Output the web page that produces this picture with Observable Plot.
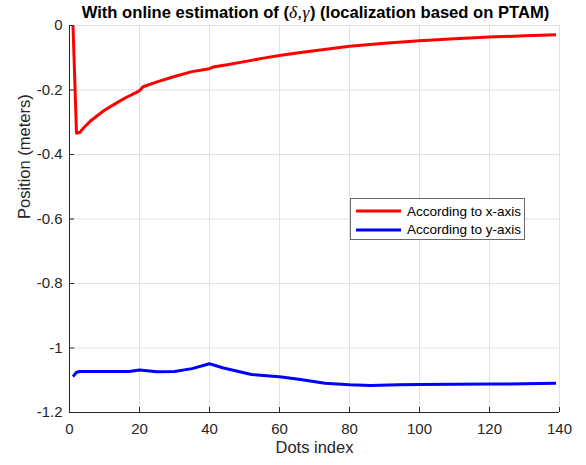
<!DOCTYPE html>
<html>
<head>
<meta charset="utf-8">
<script src="https://cdn.jsdelivr.net/npm/d3@7"></script>
<script src="https://cdn.jsdelivr.net/npm/@observablehq/plot@0.6"></script>
<style>
  html, body { margin: 0; padding: 0; background: #fff; }
  #wrap { position: relative; width: 586px; height: 465px; font-family: "Liberation Sans", Arial, sans-serif; }
  #title { position: absolute; left: 0; top: 2px; width: 631px; text-align: center; font-weight: bold; font-size: 16.6px; color: #000; white-space: nowrap; }
  #title .m { font-family: "Liberation Serif", "DejaVu Serif", serif; font-style: italic; font-weight: normal; font-size: 17.5px; letter-spacing: 0.5px; }
  #legend { position: absolute; left: 350px; top: 198px; width: 173px; height: 40px; border: 1px solid #6a6a6a; background: #fff; }
  #legend .row { position: absolute; left: 0; height: 18px; display: flex; align-items: center; font-size: 13.5px; color: #000; }
  #legend svg { margin-left: 5px; margin-right: 6px; }
</style>
</head>
<body>
<div id="wrap"></div>
<script>
// ---- data ----
const seriesNames = ["According to x-axis", "According to y-axis"];
const seriesColors = ["#ff0000", "#0000ff"];

const xAxisIdx = [1, 2, 3, 4, 6, 8, 10, 13, 16, 19, 20, 21, 25, 30, 35, 40, 41, 45, 50, 55, 60, 65, 70, 75, 80, 90, 100, 110, 120, 130, 139];
const xAxisPos = [0, -0.334, -0.331, -0.318, -0.296, -0.279, -0.263, -0.243, -0.224, -0.208, -0.202, -0.190, -0.175, -0.158, -0.143, -0.134, -0.129, -0.122, -0.112, -0.102, -0.093, -0.085, -0.078, -0.071, -0.064, -0.055, -0.047, -0.041, -0.036, -0.032, -0.029];

const yAxisIdx = [1, 2, 3, 10, 17, 20, 25, 30, 35, 40, 44, 52, 60, 66, 73, 80, 86, 94, 100, 120, 130, 139];
const yAxisPos = [-1.089, -1.075, -1.073, -1.073, -1.073, -1.068, -1.074, -1.073, -1.064, -1.049, -1.062, -1.082, -1.089, -1.098, -1.109, -1.114, -1.116, -1.114, -1.113, -1.112, -1.111, -1.109];

const xTicks = [0, 20, 40, 60, 80, 100, 120, 140];
const yTicks = [-1.2, -1, -0.8, -0.6, -0.4, -0.2, 0];

const xLabel = "Dots index";
const yLabel = "Position (meters)";
const titleText = ["With online estimation of (", "δ,γ", ") (localization based on PTAM)"];

// ---- build table ----
const rows = [
  ...xAxisIdx.map((x, i) => ({series: seriesNames[0], x, y: xAxisPos[i]})),
  ...yAxisIdx.map((x, i) => ({series: seriesNames[1], x, y: yAxisPos[i]}))
];

const W = 586, H = 465, mL = 69, mR = 27, mT = 25, mB = 53;
const plotW = W - mL - mR, plotH = H - mT - mB;
const ink = "#262626";
const gridColor = "#e1e1e1";
const fmt = d => String(+d.toFixed(1));

const chart = Plot.plot({
  width: W, height: H,
  marginLeft: mL, marginRight: mR, marginTop: mT, marginBottom: mB,
  style: {fontFamily: '"Liberation Sans", Arial, sans-serif', fontSize: "15px", color: ink, background: "#fff"},
  x: {domain: [xTicks[0], xTicks[xTicks.length - 1]]},
  y: {domain: [yTicks[0], yTicks[yTicks.length - 1]]},
  color: {domain: seriesNames, range: seriesColors},
  marks: [
    Plot.gridX(xTicks, {stroke: gridColor, strokeOpacity: 1}),
    Plot.gridY(yTicks, {stroke: gridColor, strokeOpacity: 1}),
    Plot.ruleX([xTicks[0]], {stroke: ink, strokeWidth: 1}),
    Plot.ruleY([yTicks[0]], {stroke: ink, strokeWidth: 1}),
    Plot.tickX(xTicks, {x: d => d, stroke: ink, insetTop: plotH - 5}),
    Plot.tickY(yTicks, {y: d => d, stroke: ink, insetRight: plotW - 5}),
    Plot.axisX(xTicks, {tickSize: 0, tickPadding: 11, tickFormat: fmt, label: null, fill: ink}),
    Plot.axisY(yTicks, {tickSize: 0, tickPadding: 7, tickFormat: fmt, label: null, fill: ink}),
    Plot.line(rows, {x: "x", y: "y", z: "series", stroke: "series", strokeWidth: 3, strokeLinejoin: "round", strokeLinecap: "butt"}),
    Plot.text([xLabel], {text: d => d, frameAnchor: "bottom", dy: 40, fontSize: 16.5, fill: ink}),
    Plot.text([yLabel], {text: d => d, frameAnchor: "left", rotate: -90, dx: -45, fontSize: 16.5, fill: ink})
  ]
});

const wrap = document.getElementById("wrap");
wrap.appendChild(chart);

// title
const title = document.createElement("div");
title.id = "title";
title.innerHTML = `${titleText[0]}<span class="m">${titleText[1]}</span>${titleText[2]}`;
wrap.appendChild(title);

// legend
const legend = document.createElement("div");
legend.id = "legend";
seriesNames.forEach((name, i) => {
  const row = document.createElement("div");
  row.className = "row";
  row.style.top = (3 + i * 18.5) + "px";
  row.innerHTML = `<svg width="45" height="6"><line x1="0" x2="45" y1="3" y2="3" stroke="${seriesColors[i]}" stroke-width="3"/></svg><span>${name}</span>`;
  legend.appendChild(row);
});
wrap.appendChild(legend);
</script>
</body>
</html>
